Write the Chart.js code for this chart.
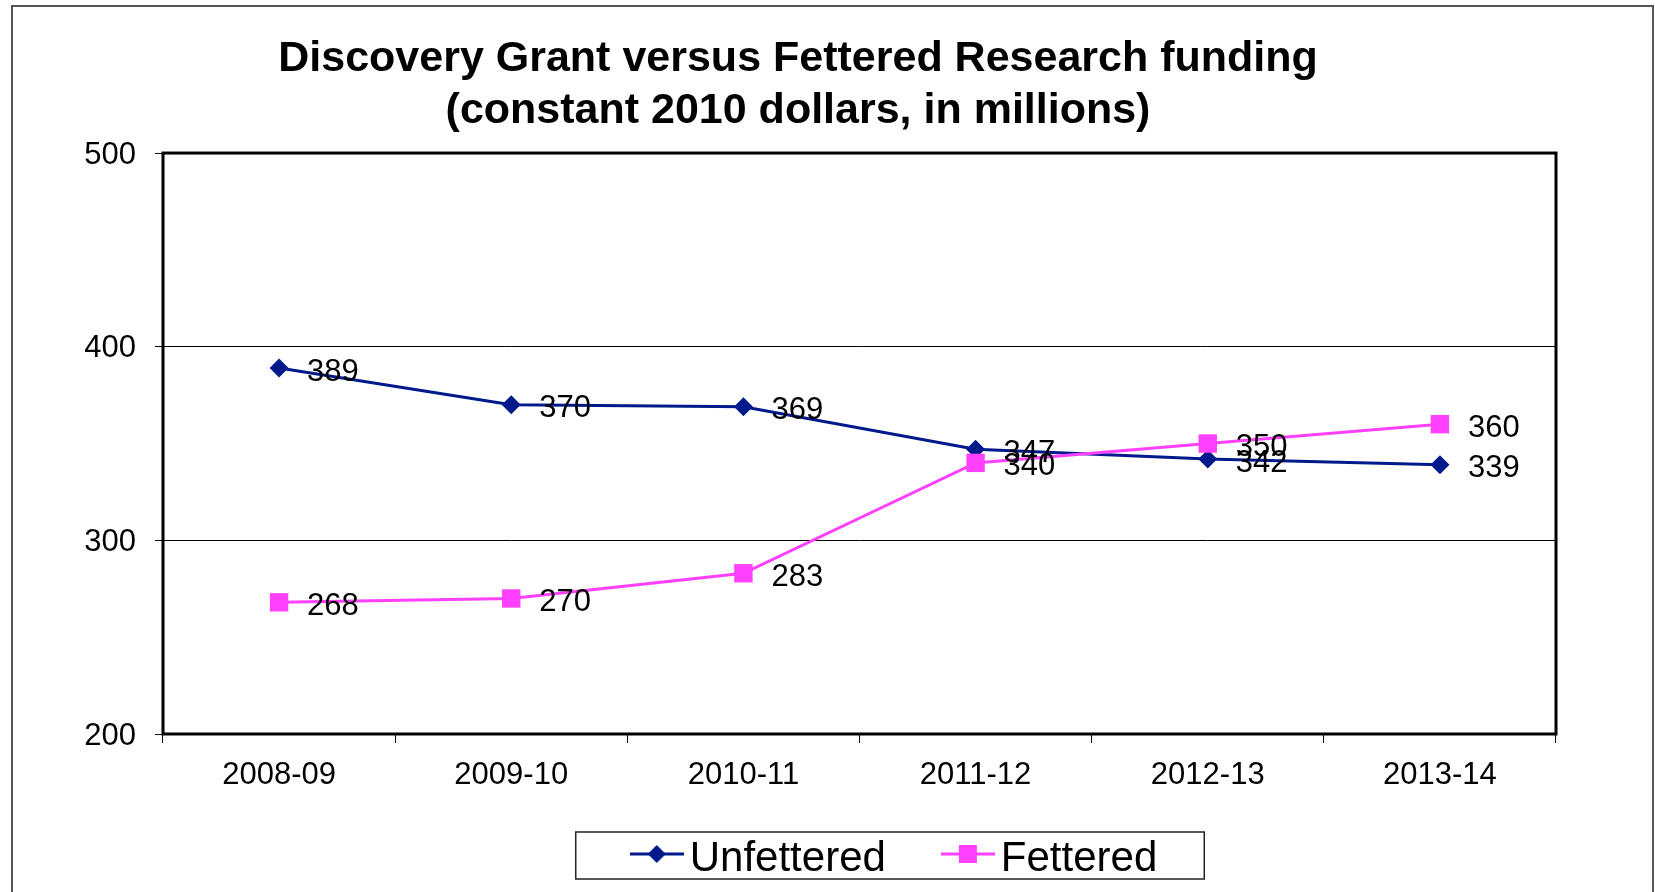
<!DOCTYPE html>
<html>
<head>
<meta charset="utf-8">
<title>Discovery Grant versus Fettered Research funding</title>
<script src="https://cdn.jsdelivr.net/npm/chart.js@4"></script>
<style>
    html, body { margin: 0; padding: 0; background: #fff; }
    #wrap { width: 1655px; height: 892px; }
</style>
</head>
<body>
<div id="wrap"><canvas id="fundingChart" width="1655" height="892"></canvas></div>
<script>
// ──────────────────────────────────────
// Data
// ──────────────────────────────────────

const TITLE_LINES = [
    'Discovery Grant versus Fettered Research funding',
    '(constant 2010 dollars, in millions)',
];
const YEARS = ['2008-09', '2009-10', '2010-11', '2011-12', '2012-13', '2013-14'];
const UNFETTERED = [389, 370, 369, 347, 342, 339];
const FETTERED = [268, 270, 283, 340, 350, 360];
const Y_TICKS = [200, 300, 400, 500];

// ──────────────────────────────────────
// Style
// ──────────────────────────────────────

const FONT = "'Liberation Sans', Arial, sans-serif";
const COLORS = {
    navy: '#001a8c',
    magenta: '#ff40ff',
    ink: '#000000',
};

// little "line + marker" images for the legend
// (line sits a few px above the text middle, like the original)
function legendMarker(color, shape) {
    const c = document.createElement('canvas');
    c.width = 54;
    c.height = 32;
    const g = c.getContext('2d');
    g.strokeStyle = color;
    g.fillStyle = color;
    g.lineWidth = 3;
    g.beginPath();
    g.moveTo(0, 11);
    g.lineTo(54, 11);
    g.stroke();
    g.beginPath();
    if (shape === 'diamond') {
        g.moveTo(27, 2);
        g.lineTo(36, 11);
        g.lineTo(27, 20);
        g.lineTo(18, 11);
        g.closePath();
    } else {
        g.rect(18, 2, 18, 18);
    }
    g.fill();
    return c;
}

// outer border + plot frame
const framePlugin = {
    id: 'frame',
    beforeDraw(chart) {
        const ctx = chart.ctx;
        ctx.save();
        ctx.strokeStyle = '#555';
        ctx.lineWidth = 2;
        ctx.strokeRect(12, 6, 1641, 1000);
        ctx.restore();
    },
    beforeDatasetsDraw(chart) {
        const a = chart.chartArea;
        const ctx = chart.ctx;
        ctx.save();
        ctx.strokeStyle = COLORS.ink;
        ctx.lineWidth = 3;
        ctx.strokeRect(a.left, a.top, a.right - a.left, a.bottom - a.top);
        ctx.restore();
    }
};

// value labels to the right of every point
const valueLabelPlugin = {
    id: 'valueLabels',
    afterDatasetsDraw(chart) {
        const ctx = chart.ctx;
        ctx.save();
        ctx.font = '31px ' + FONT;
        ctx.fillStyle = COLORS.ink;
        ctx.textAlign = 'left';
        ctx.textBaseline = 'middle';
        chart.data.datasets.forEach((ds, i) => {
            chart.getDatasetMeta(i).data.forEach((pt, j) => {
                ctx.fillText(String(ds.data[j]), pt.x + 28, pt.y + 4);
            });
        });
        ctx.restore();
    }
};

// legend sits right of centre and partly over the x-axis band in the original,
// with a box round it
const LEGEND_SHIFT_X = 103;
const LEGEND_TOP = 768;
const legendBoxPlugin = {
    id: 'legendBox',
    afterLayout(chart) {
        const lg = chart.legend;
        if (!lg) return;
        lg.left += LEGEND_SHIFT_X;
        lg.right += LEGEND_SHIFT_X;
        lg.top = LEGEND_TOP;
        lg.bottom = chart.height;
    },
    afterDraw(chart) {
        const hb = chart.legend && chart.legend.legendHitBoxes;
        if (!hb || !hb.length) return;
        const first = hb[0];
        const last = hb[hb.length - 1];
        const cy = first.top + first.height / 2;
        const ctx = chart.ctx;
        ctx.save();
        ctx.strokeStyle = '#222';
        ctx.lineWidth = 1.5;
        const left = first.left - 69;
        const right = last.left + last.width + 47;
        ctx.strokeRect(left, cy - 27, right - left, 47);
        ctx.restore();
    }
};

// ──────────────────────────────────────
// Chart
// ──────────────────────────────────────

const chart = new Chart(document.getElementById('fundingChart'), {
    type: 'line',
    data: {
        labels: YEARS,
        datasets: [
            {
                label: 'Unfettered',
                data: UNFETTERED,
                borderColor: COLORS.navy,
                backgroundColor: COLORS.navy,
                borderWidth: 3,
                pointStyle: 'rectRot',
                pointRadius: 9.5,
                pointBorderWidth: 0,
                pointBackgroundColor: COLORS.navy,
                tension: 0,
                order: 1,
            },
            {
                label: 'Fettered',
                data: FETTERED,
                borderColor: COLORS.magenta,
                backgroundColor: COLORS.magenta,
                borderWidth: 3,
                pointStyle: 'rect',
                pointRadius: 13,
                pointBorderWidth: 0,
                pointBackgroundColor: COLORS.magenta,
                tension: 0,
                order: 0,
            }
        ]
    },
    options: {
        responsive: false,
        animation: false,
        devicePixelRatio: 1,
        layout: {
            padding: { left: 40, right: 99, top: 0, bottom: 6 }
        },
        plugins: {
            title: {
                display: true,
                text: TITLE_LINES,
                color: COLORS.ink,
                font: { size: 43, weight: 'bold', family: FONT, lineHeight: 1.19 },
                padding: { top: 34, bottom: 16.7 },
            },
            legend: {
                position: 'bottom',
                maxHeight: 62,
                labels: {
                    usePointStyle: true,
                    pointStyleWidth: 24,
                    padding: 70,
                    color: COLORS.ink,
                    font: { size: 42, family: FONT },
                    generateLabels(ch) {
                        return ch.data.datasets.map((ds, i) => ({
                            text: ds.label,
                            pointStyle: legendMarker(ds.borderColor, i === 0 ? 'diamond' : 'square'),
                            fillStyle: ds.borderColor,
                            strokeStyle: ds.borderColor,
                            lineWidth: 0,
                            fontColor: COLORS.ink,
                            hidden: false,
                            datasetIndex: i,
                        }));
                    }
                }
            },
            tooltip: { enabled: false },
        },
        scales: {
            x: {
                offset: true,
                border: { display: false },
                grid: {
                    offset: true,
                    drawOnChartArea: false,
                    drawTicks: true,
                    tickLength: 9,
                    color: COLORS.ink,
                    lineWidth: 1,
                },
                ticks: {
                    color: COLORS.ink,
                    padding: 14,
                    maxRotation: 0,
                    font: { size: 31, family: FONT },
                },
                afterFit(scale) { scale.height = 90; }
            },
            y: {
                min: Y_TICKS[0],
                max: Y_TICKS[Y_TICKS.length - 1],
                border: { display: false },
                grid: {
                    color: COLORS.ink,
                    lineWidth: 1,
                    drawTicks: true,
                    tickLength: 8,
                },
                ticks: {
                    stepSize: Y_TICKS[1] - Y_TICKS[0],
                    color: COLORS.ink,
                    padding: 19,
                    labelOffset: 2,
                    font: { size: 31, family: FONT },
                },
                afterBuildTicks(scale) {
                    scale.ticks = Y_TICKS.map(v => ({ value: v }));
                },
                afterFit(scale) { scale.width = 123; }
            }
        }
    },
    plugins: [framePlugin, valueLabelPlugin, legendBoxPlugin]
});
</script>
</body>
</html>
